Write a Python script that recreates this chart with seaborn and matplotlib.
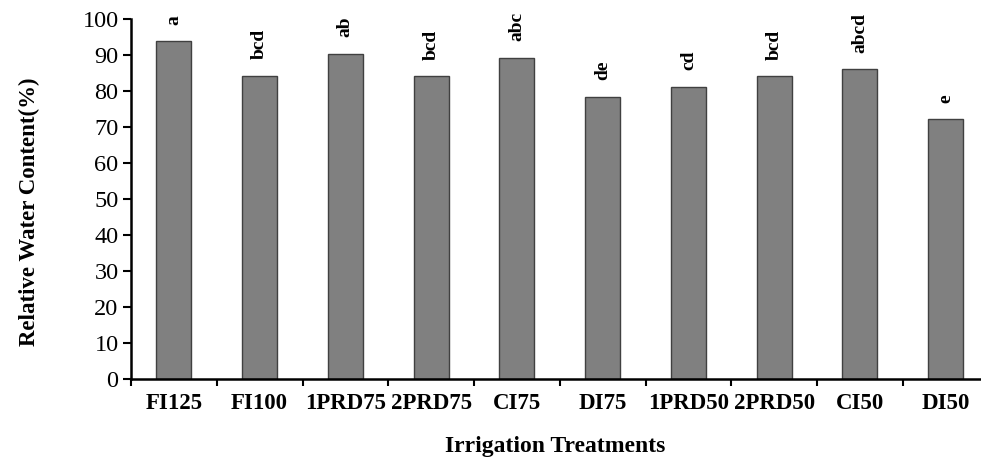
import matplotlib
matplotlib.use("Agg")
import matplotlib.pyplot as plt
import numpy as np
import pandas as pd
import seaborn as sns

# datos
tratamientos = ["FI125", "FI100", "1PRD75", "2PRD75", "CI75",
                "DI75", "1PRD50", "2PRD50", "CI50", "DI50"]
rwc = [93.8, 84.2, 90.3, 84.1, 89.3, 78.3, 81.1, 84.1, 86.0, 72.1]
letras = ["a", "bcd", "ab", "bcd", "abc", "de", "cd", "bcd", "abcd", "e"]

df = pd.DataFrame({"Tratamiento": tratamientos, "RWC": rwc})

sns.set_style("white")
plt.rcParams["font.family"] = ["Liberation Serif", "DejaVu Serif"]
plt.rcParams.update({"text.color": "black", "axes.labelcolor": "black",
                     "xtick.color": "black", "ytick.color": "black"})

fig = plt.figure(figsize=(9.81, 4.66), dpi=100)
ax = fig.add_axes([131 / 981, 1 - 379 / 466, 857.5 / 981, 360 / 466])

sns.barplot(data=df, x="Tratamiento", y="RWC", ax=ax, color="#808080",
            saturation=1, width=0.41, edgecolor="#404040", linewidth=1)

for i, (v, l) in enumerate(zip(rwc, letras)):
    ax.annotate(l, (i, v), xytext=(0, 12), textcoords="offset points",
                rotation=90, ha="center", va="bottom",
                fontsize=14, fontweight="bold")

ax.set_ylim(0, 100)
ax.set_xlim(-0.5, len(tratamientos) - 0.5)
ax.set_yticks(np.arange(0, 101, 10))
ax.set_xticks(np.arange(len(tratamientos)))
ax.set_xticks(np.arange(-0.5, len(tratamientos), 1), minor=True)
ax.tick_params(axis="x", which="major", length=0, pad=10, labelsize=16.5)
ax.tick_params(axis="x", which="minor", length=5, width=1.5, direction="out", bottom=True)
ax.tick_params(axis="y", length=6, width=1.5, direction="out", left=True, labelsize=17.5, pad=3)
for lab in ax.get_xticklabels():
    lab.set_fontweight("bold")

ax.set_xlabel("Irrigation Treatments", fontsize=17, fontweight="bold")
ax.set_ylabel("Relative Water Content(%)", fontsize=16.5, fontweight="bold")
ax.yaxis.set_label_coords(-0.106, 0.464)
ax.xaxis.set_label_coords(0.495, -0.158)

sns.despine(ax=ax, top=True, right=True)
for s in ["left", "bottom"]:
    ax.spines[s].set_linewidth(1.8)
    ax.spines[s].set_color("black")

fig.savefig("out.png", dpi=100)
